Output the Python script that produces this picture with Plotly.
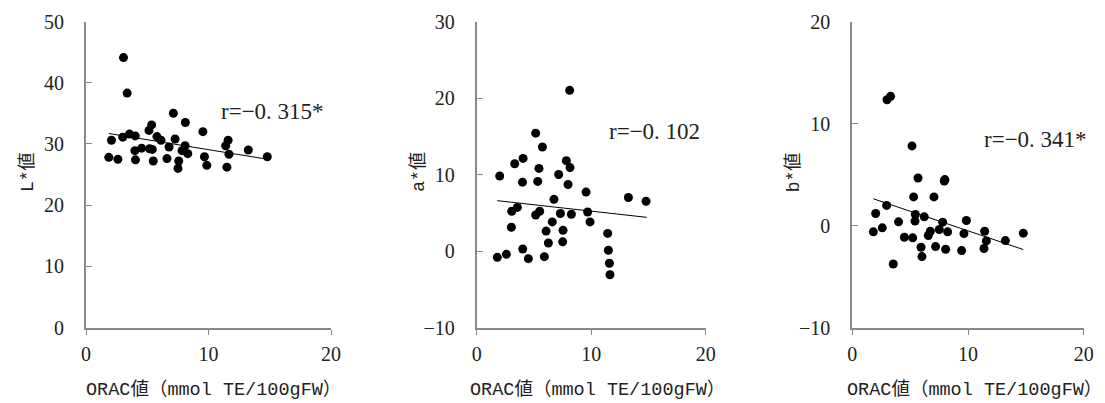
import plotly.graph_objects as go

# ---------------- data ----------------
orac_L = [3.06, 3.36, 7.13, 8.11, 9.54, 5.36, 5.14, 3.55, 4.02, 3.0, 2.08, 5.79, 6.12,
          7.27, 6.78, 8.09, 7.84, 8.31, 11.6, 11.4, 11.67, 13.25, 14.8, 1.86, 2.6, 4.04,
          3.99, 4.54, 5.19, 5.41, 5.49, 6.61, 7.57, 7.51, 9.67, 9.86, 11.5]
L_vals = [44.1, 38.3, 35.0, 33.5, 32.0, 33.1, 32.2, 31.6, 31.3, 31.1, 30.6, 31.2, 30.6,
          30.8, 29.5, 29.7, 28.9, 28.4, 30.6, 29.7, 28.3, 29.0, 27.9, 27.8, 27.5, 27.4,
          28.9, 29.3, 29.2, 29.1, 27.2, 27.6, 27.2, 26.0, 27.9, 26.5, 26.2]

orac_a = [8.12, 5.15, 5.74, 4.05, 3.32, 7.83, 8.15, 5.44, 2.01, 7.16, 4.0, 5.33, 7.98,
          9.55, 13.25, 14.79, 6.75, 3.55, 3.06, 5.5, 5.15, 7.31, 8.27, 9.69, 9.9, 6.6,
          3.03, 6.06, 7.54, 6.26, 7.51, 11.44, 11.5, 4.02, 2.59, 1.8, 4.51, 5.91, 11.59, 11.64]
a_vals = [21.0, 15.4, 13.6, 12.1, 11.4, 11.8, 10.9, 10.8, 9.8, 10.0, 9.0, 9.1, 8.7,
          7.7, 7.0, 6.5, 6.75, 5.7, 5.2, 5.2, 4.7, 4.9, 4.8, 5.1, 3.8, 3.8,
          3.1, 2.6, 2.7, 1.05, 1.2, 2.3, 0.1, 0.26, -0.44, -0.83, -1.0, -0.74, -1.6, -3.1]

orac_b = [3.31, 3.0, 5.16, 5.68, 7.95, 8.0, 5.3, 7.06, 2.97, 2.02, 5.45, 6.22, 5.42, 4.0,
          7.81, 9.86, 2.59, 1.82, 6.74, 6.57, 7.52, 8.24, 9.65, 11.44, 14.78, 4.5, 5.22,
          11.59, 13.23, 5.94, 7.2, 8.07, 9.45, 11.38, 6.02, 3.54]
b_vals = [12.66, 12.33, 7.8, 4.66, 4.36, 4.5, 2.8, 2.8, 1.97, 1.18, 1.08, 0.85, 0.43, 0.36,
          0.33, 0.49, -0.23, -0.62, -0.56, -0.98, -0.39, -0.62, -0.79, -0.56, -0.75, -1.15, -1.21,
          -1.51, -1.48, -2.13, -2.07, -2.33, -2.46, -2.26, -3.05, -3.77]

# linear trend lines (end points)
trend_x_L = [1.86, 14.8]
trend_y_L = [31.7, 27.5]
trend_x_a = [1.8, 14.85]
trend_y_a = [6.58, 4.4]
trend_x_b = [1.82, 14.78]
trend_y_b = [2.62, -2.36]

y_titles = ["L*値", "a*値", "b*値"]
x_title = "ORAC値（mmol TE/100gFW）"
r_texts = ["r=−0. 315*", "r=−0. 102", "r=−0. 341*"]
r_pos = [(10.86, 35.3), (11.38, 15.6), (11.18, 8.46)]
y_ranges = [[0, 50], [-10, 30], [-10, 20]]
x_range = [0, 20]

# ---------------- layout ----------------
OFF = 8  # page body margin of the viewer
W, H = 1105 - OFF, 403 - OFF
px_x = [(86 - OFF, 331 - OFF), (476.7 - OFF, 705.7 - OFF), (852.3 - OFF, 1083.7 - OFF)]
px_y = (21.5 - OFF, 327.5 - OFF)
ydom = [1 - px_y[1] / H, 1 - px_y[0] / H]
xtitle_centers = [213 - OFF, 597 - OFF, 974 - OFF]

AX = "#898989"
SERIF = "Liberation Serif, Noto Sans CJK JP, serif"
TITLEF = "Liberation Mono, Noto Sans CJK JP, monospace"

fig = go.Figure()
series = [(orac_L, L_vals, trend_x_L, trend_y_L),
          (orac_a, a_vals, trend_x_a, trend_y_a),
          (orac_b, b_vals, trend_x_b, trend_y_b)]

for i, (xs, ys, tx, ty) in enumerate(series):
    n = "" if i == 0 else str(i + 1)
    fig.add_trace(go.Scatter(x=xs, y=ys, mode="markers", xaxis="x" + n, yaxis="y" + n,
                             marker=dict(size=9, color="black"), showlegend=False))
    fig.add_trace(go.Scatter(x=tx, y=ty, mode="lines", xaxis="x" + n, yaxis="y" + n,
                             line=dict(color="black", width=1), showlegend=False))
    xd = [px_x[i][0] / W, px_x[i][1] / W]
    fig.layout["xaxis" + n] = dict(
        domain=xd, anchor="y" + n, range=x_range, dtick=10, showgrid=False, zeroline=False,
        showline=True, linecolor=AX, linewidth=2, ticks="outside", ticklen=5, tickwidth=1,
        tickcolor=AX, tickfont=dict(family=SERIF, size=20, color="#222"),
        ticklabelstandoff=2, fixedrange=True, automargin=False)
    fig.layout["yaxis" + n] = dict(
        domain=ydom, anchor="x" + n, range=y_ranges[i], dtick=10, showgrid=False, zeroline=False,
        showline=True, linecolor=AX, linewidth=2, ticks="inside", ticklen=6, tickwidth=1,
        tickcolor=AX, tickfont=dict(family=SERIF, size=20, color="#222"),
        ticklabelstandoff=16, fixedrange=True, automargin=False)
    # r annotation
    fig.add_annotation(x=r_pos[i][0], y=r_pos[i][1], xref="x" + n, yref="y" + n,
                       text=r_texts[i], showarrow=False, xanchor="left", yanchor="middle",
                       font=dict(family=SERIF, size=23, color="#222"))
    # axis titles
    fig.add_annotation(x=xtitle_centers[i] / W, y=1 - (390 - OFF) / H,
                       xref="paper", yref="paper", text=x_title, showarrow=False,
                       xanchor="center", yanchor="middle",
                       font=dict(family=TITLEF, size=18.5, color="#222"))
    fig.add_annotation(x=(px_x[i][0] - 59) / W, y=1 - (172 - OFF) / H,
                       xref="paper", yref="paper", text=y_titles[i], showarrow=False,
                       textangle=-90, xanchor="center", yanchor="middle",
                       font=dict(family=TITLEF, size=18, color="#222"))

fig.update_layout(width=W, height=H, margin=dict(l=0, r=0, t=0, b=0, autoexpand=False),
                  paper_bgcolor="white", plot_bgcolor="white")
fig.write_html("out.html")
